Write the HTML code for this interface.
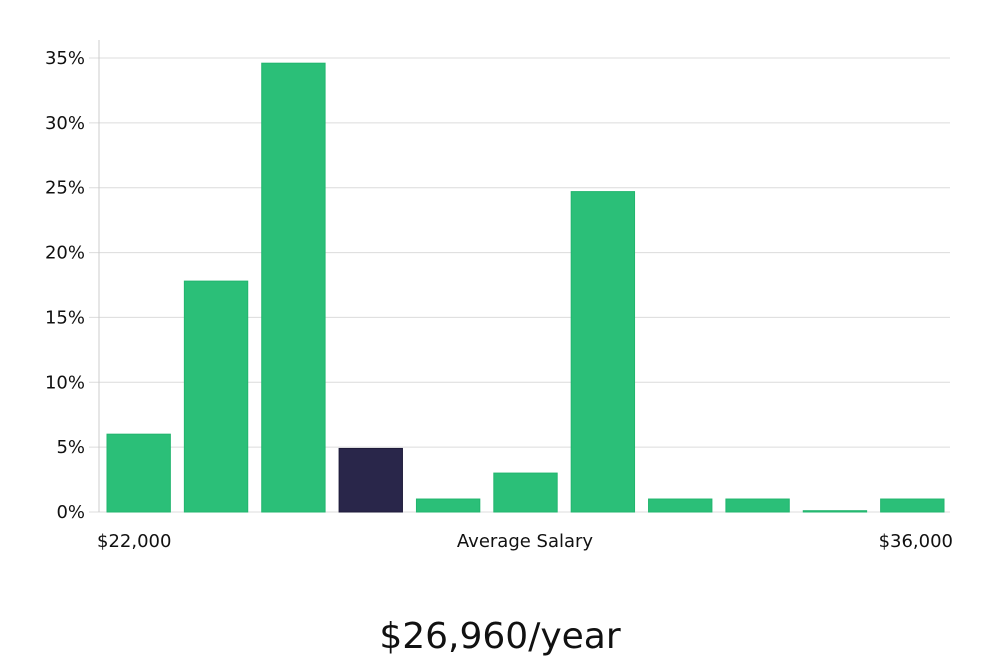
<!DOCTYPE html>
<html><head><meta charset="utf-8"><style>
body{margin:0;background:#fff;width:1000px;height:660px;overflow:hidden;font-family:"DejaVu Sans","Liberation Sans",sans-serif;}
svg text{font-family:"DejaVu Sans","Liberation Sans",sans-serif;}
</style></head><body>
<svg id="chart" width="1000" height="660" xmlns="http://www.w3.org/2000/svg">
<g id="grid"></g>
<g id="bars"></g>
<line x1="99" y1="40" x2="99" y2="512" stroke="#ccc" stroke-width="1"/>
<g id="yticks"></g>
<text x="97" y="547" font-size="18" fill="#111">$22,000</text>
<text x="525" y="547" font-size="18" fill="#111" text-anchor="middle">Average Salary</text>
<text x="953" y="547" font-size="18" fill="#111" text-anchor="end">$36,000</text>
<text x="500" y="648" font-size="36" fill="#111" text-anchor="middle" font-family="Liberation Sans Narrow, Liberation Sans, sans-serif">$26,960/year</text>
</svg>
<script>
const values = [6, 17.8, 34.6, 4.9, 1, 3, 24.7, 1, 1, 0.1, 1];
const highlight = [false, false, false, true, false, false, false, false, false, false, false];
const yTicks = [0, 5, 10, 15, 20, 25, 30, 35];
const NS = "http://www.w3.org/2000/svg";
const x0 = 99, x1 = 950, y0 = 512, yTop = 58, yMax = 35;
const y = v => y0 - (v / yMax) * (y0 - yTop);
const band = (x1 - x0) / values.length;
const bx = i => x0 + i * band + 8;
const bw = band - 14;
const grid = document.getElementById('grid'), yt = document.getElementById('yticks'), bars = document.getElementById('bars');
yTicks.forEach(t => {
  const l = document.createElementNS(NS, 'line');
  
  
  l.setAttribute('x1', 89); l.setAttribute('x2', x1);
  l.setAttribute('y1', y(t)); l.setAttribute('y2', y(t));
  l.setAttribute('stroke', '#dcdcdc'); l.setAttribute('stroke-width', '1');
  grid.appendChild(l);
  const tx = document.createElementNS(NS, 'text');
  
  
  tx.setAttribute('x', 85); tx.setAttribute('y', y(t) + 6);
  tx.setAttribute('text-anchor', 'end'); tx.setAttribute('font-size', '18'); tx.setAttribute('fill', '#111');
  tx.textContent = t + '%';
  yt.appendChild(tx);
});
values.forEach((v, i) => {
  const r = document.createElementNS(NS, 'rect');
  
  
  r.setAttribute('x', bx(i)); r.setAttribute('width', bw);
  r.setAttribute('y', y(v)); r.setAttribute('height', Math.max(1, y0 - y(v)));
  r.setAttribute('fill', highlight[i] ? '#29264a' : '#2bbf78');
  r.setAttribute('stroke', highlight[i] ? '#1e1b3a' : '#22b56e'); r.setAttribute('stroke-width', '1');
  bars.appendChild(r);
});
</script>
</body></html>
